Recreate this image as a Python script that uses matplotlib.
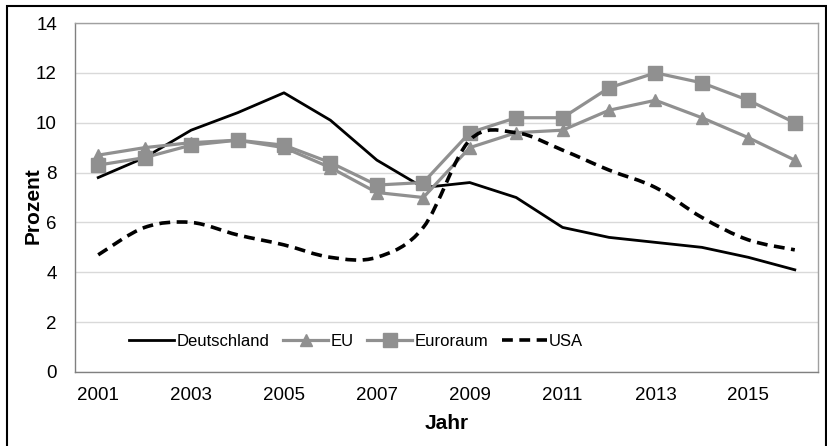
import matplotlib

matplotlib.use("Agg")
import matplotlib.pyplot as plt
from matplotlib.patches import PathPatch, Rectangle
from matplotlib.path import Path
from matplotlib.lines import Line2D

plt.rcParams["font.family"] = ["Liberation Sans", "DejaVu Sans"]

years = list(range(2001, 2017))
deutschland = [7.8, 8.6, 9.7, 10.4, 11.2, 10.1, 8.5, 7.4, 7.6, 7.0, 5.8, 5.4, 5.2, 5.0, 4.6, 4.1]
eu = [8.7, 9.0, 9.2, 9.3, 9.0, 8.2, 7.2, 7.0, 9.0, 9.6, 9.7, 10.5, 10.9, 10.2, 9.4, 8.5]
euroraum = [8.3, 8.6, 9.1, 9.3, 9.1, 8.4, 7.5, 7.6, 9.6, 10.2, 10.2, 11.4, 12.0, 11.6, 10.9, 10.0]
usa = [4.7, 5.8, 6.0, 5.5, 5.1, 4.6, 4.6, 5.8, 9.3, 9.6, 8.9, 8.1, 7.4, 6.2, 5.3, 4.9]
xticks = [2001, 2003, 2005, 2007, 2009, 2011, 2013, 2015]

GRAY = "#909090"


def smooth_path(xs, ys, t=1 / 6):
    # Catmull-Rom style bezier through the data points (like Excel's smoothed line)
    verts = [(xs[0], ys[0])]
    codes = [Path.MOVETO]
    n = len(xs)
    for i in range(n - 1):
        x0, y0 = (xs[i - 1], ys[i - 1]) if i > 0 else (xs[i], ys[i])
        x1, y1 = xs[i], ys[i]
        x2, y2 = xs[i + 1], ys[i + 1]
        x3, y3 = (xs[i + 2], ys[i + 2]) if i + 2 < n else (x2, y2)
        c1 = (x1 + (x2 - x0) * t, y1 + (y2 - y0) * t)
        c2 = (x2 - (x3 - x1) * t, y2 - (y3 - y1) * t)
        verts += [c1, c2, (x2, y2)]
        codes += [Path.CURVE4] * 3
    return Path(verts, codes)


fig = plt.figure(figsize=(8.27, 4.46), dpi=100)
ax = fig.add_axes([75 / 827, 1 - 372 / 446, 743 / 827, 349 / 446])

ax.plot(years, deutschland, color="black", lw=2, label="Deutschland", zorder=3)
ax.plot(years, eu, color=GRAY, lw=2.3, marker="^", markersize=9, label="EU", zorder=3)
ax.plot(years, euroraum, color=GRAY, lw=2.3, marker="s", markersize=9.5, label="Euroraum", zorder=3)
ax.add_patch(PathPatch(smooth_path(years, usa), fill=False, edgecolor="black", lw=2.6,
                       linestyle=(0, (3, 1.8)), zorder=4))

ax.set_xlim(2000.5, 2016.5)
ax.set_ylim(0, 14)
ax.set_yticks(range(0, 15, 2))
ax.set_xticks(xticks)
ax.grid(axis="y", color="#d9d9d9", lw=1)
ax.set_axisbelow(True)
for s in ax.spines.values():
    s.set_color("#a0a0a0")
    s.set_linewidth(1)
ax.spines["bottom"].set_color("#808080")
ax.spines["left"].set_color("#808080")
ax.tick_params(length=0, labelsize=13.5, pad=11)
ax.tick_params(axis="y", pad=13)
ax.set_xlabel("Jahr", fontsize=15, fontweight="bold", labelpad=7)
ax.set_ylabel("Prozent", fontsize=15, fontweight="bold")
ax.yaxis.set_label_coords(-0.044, 0.478)

handles = [
    Line2D([], [], color="black", lw=2),
    Line2D([], [], color=GRAY, lw=2.3, marker="^", markersize=9),
    Line2D([], [], color=GRAY, lw=2.3, marker="s", markersize=9.5),
    Line2D([], [], color="black", lw=2.6, linestyle=(0, (3, 1.8))),
]
ax.legend(handles, ["Deutschland", "EU", "Euroraum", "USA"], loc="center left",
          bbox_to_anchor=(0.062, 0.088), ncol=4, frameon=False, fontsize=12,
          handlelength=2.7, handletextpad=0.15, columnspacing=0.8, borderpad=0)

fig.patches.append(Rectangle((7 / 827, -0.05), 819 / 827, 1 - 6 / 446 + 0.05,
                             transform=fig.transFigure, fill=False, edgecolor="black", lw=1.5))

fig.savefig("out.png", dpi=100)
